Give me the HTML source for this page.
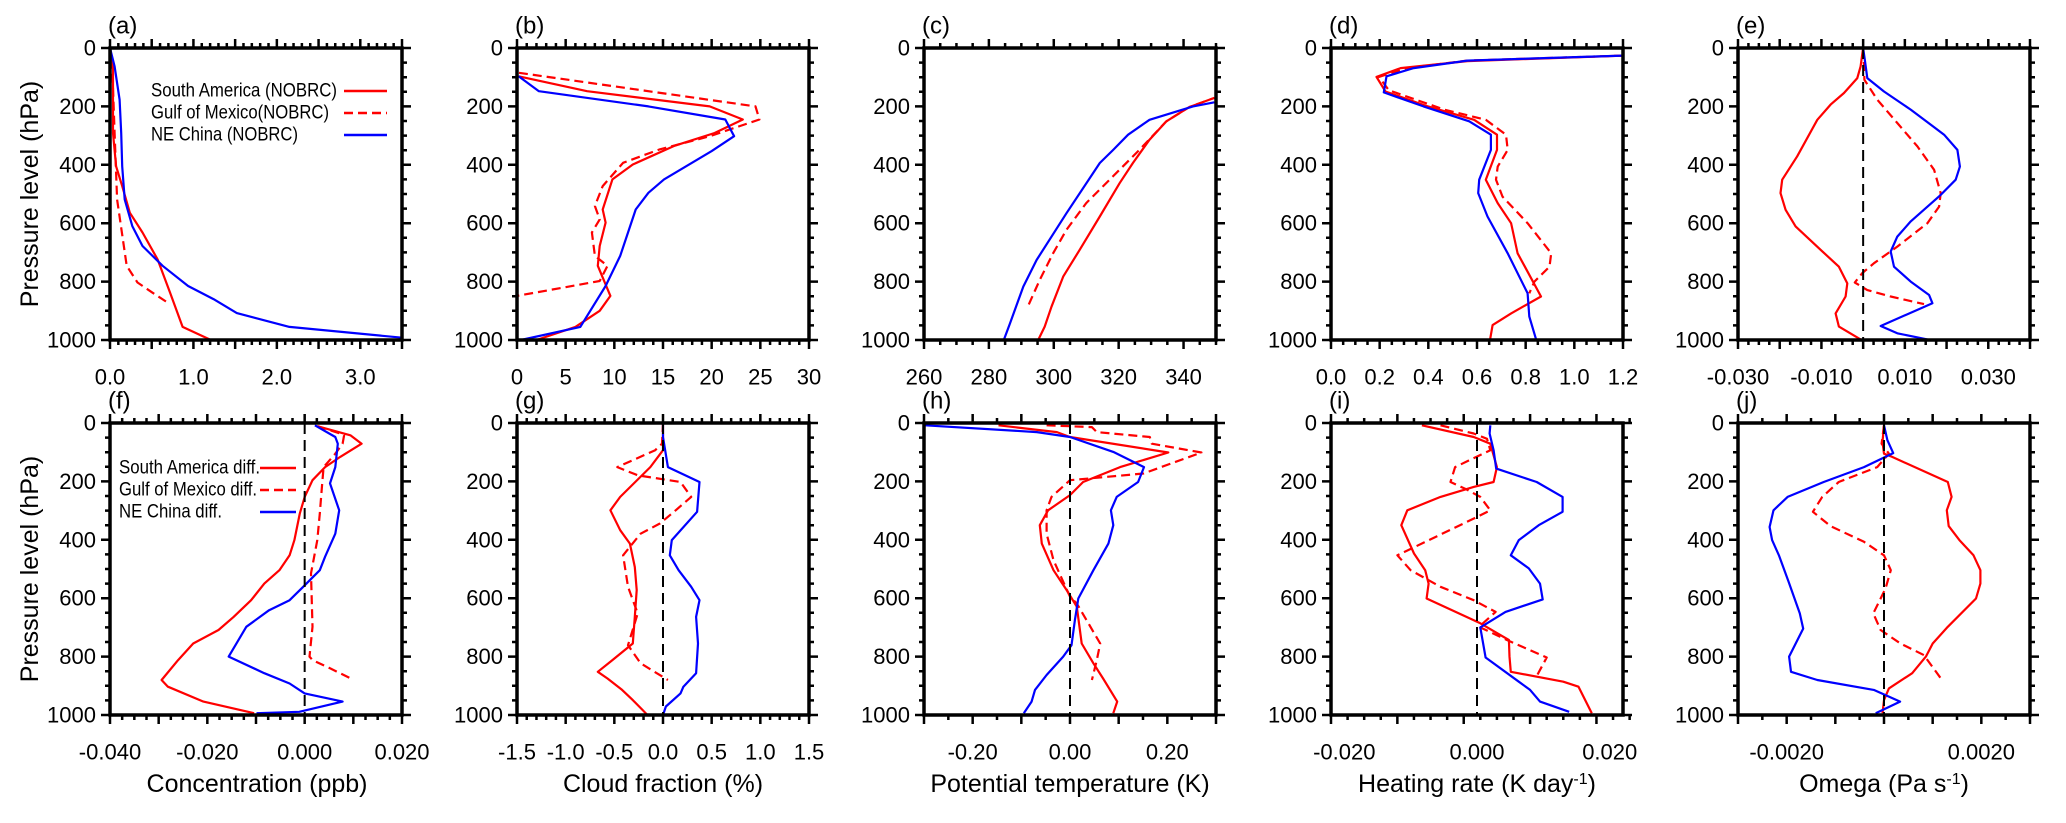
<!DOCTYPE html>
<html><head><meta charset="utf-8">
<style>
html,body{margin:0;padding:0;background:#fff;}
svg{display:block;font-family:"Liberation Sans",Arial,sans-serif;}
</style></head>
<body>
<svg id="fig" width="2066" height="823" viewBox="0 0 2066 823" xmlns="http://www.w3.org/2000/svg">
<rect x="0" y="0" width="2066" height="823" fill="#fff"/>
<text x="0" y="0" transform="translate(38,194) rotate(-90)" text-anchor="middle" font-size="25">Pressure level (hPa)</text>
<text x="0" y="0" transform="translate(38,569) rotate(-90)" text-anchor="middle" font-size="25">Pressure level (hPa)</text>
<text x="257" y="792" text-anchor="middle" font-size="25">Concentration (ppb)</text>
<text x="663" y="792" text-anchor="middle" font-size="25">Cloud fraction  (%)</text>
<text x="1070" y="792" text-anchor="middle" font-size="25">Potential temperature  (K)</text>
<text x="1477" y="792" text-anchor="middle" font-size="25">Heating rate  (K day<tspan baseline-shift="super" font-size="16">-1</tspan>)</text>
<text x="1884" y="792" text-anchor="middle" font-size="25">Omega (Pa s<tspan baseline-shift="super" font-size="16">-1</tspan>)</text>
</svg>
<script>
// ---- data ----
const yTicks=[0,200,400,600,800,1000];
// (a) concentration
const aSAp=[6,63,291,405,473,564,632,724,838,955,1000];
const aSAx=[0,0.036,0.036,0.073,0.146,0.237,0.389,0.571,0.72,0.87,1.21];
const aGMp=[40,291,519,746,803,838,870];
const aGMx=[0.024,0.055,0.085,0.2,0.33,0.51,0.68];
const aNEp=[0,63,177,291,405,519,610,678,746,815,860,908,955,992];
const aNEx=[0,0.055,0.115,0.134,0.146,0.176,0.267,0.389,0.63,0.936,1.24,1.52,2.15,3.5];
const aLabels=["0.0","1.0","2.0","3.0"];
// (b) cloud fraction
const bSAp=[97,148,200,245,291,336,399,450,553,598,678,746,849,900,955,1000];
const bSAx=[0.16,7.2,19.8,23.2,20.3,16.1,11.9,9.8,8.8,9.1,8.5,8.3,9.6,8.5,6.0,2.0];
const bGMp=[85,200,245,302,348,393,473,541,587,632,712,746,798,849];
const bGMx=[0.2,24.5,24.9,19.8,14.6,10.9,8.8,8,8.5,7.7,8,9.3,8.5,0];
const bNEp=[97,148,200,245,302,353,450,496,553,712,815,955,1000];
const bNEx=[0.16,2.25,13.5,21.4,22.3,20,15.1,13.5,12.2,10.6,9.1,6.5,0.4];
const bLabels=["0","5","10","15","20","25","30"];
// (c) potential temperature
const cSAp=[1000,954,886,783,691,577,463,394,314,251,202,171];
const cSAx=[295.2,297.2,299.3,302.9,308,314.2,320.3,324.4,329.5,334.7,341.8,349.5];
const cGMp=[878,794,703,623,531,440,349,251,202,171];
const cGMx=[292.3,295.7,299.8,303.9,310,318.2,326.4,334.7,341.8,349.5];
const cNEp=[1000,943,817,726,566,394,349,297,246,200,186];
const cNEx=[284.6,286.5,290.6,294.7,303.9,314.2,318.3,322.9,329.5,342.9,349.5];
const cLabels=["260","280","300","320","340"];
// (d) heating rate
const dSAp=[26,45,69,99,149,198,246,297,349,451,531,600,703,754,851,909,949,998];
const dSAx=[1.2,0.56,0.286,0.187,0.224,0.39,0.588,0.682,0.682,0.636,0.685,0.74,0.767,0.80,0.863,0.74,0.664,0.654];
const dGMp=[26,43,69,99,145,211,246,297,349,406,451,509,600,703,749,800,840];
const dGMx=[1.2,0.56,0.31,0.197,0.238,0.465,0.636,0.719,0.726,0.685,0.678,0.705,0.808,0.905,0.898,0.836,0.815];
const dNEp=[26,43,69,97,152,200,251,297,349,451,497,577,703,840,920,998];
const dNEx=[1.2,0.56,0.34,0.228,0.217,0.38,0.568,0.657,0.657,0.609,0.605,0.643,0.726,0.808,0.815,0.843];
const dLabels=["0.0","0.2","0.4","0.6","0.8","1.0","1.2"];
// (e) omega
const eSAp=[0,63,103,154,194,246,371,451,497,554,611,691,749,806,851,909,954,998];
const eSAx=[0,-0.0006,-0.0014,-0.0046,-0.0078,-0.011,-0.0158,-0.0194,-0.0198,-0.0186,-0.0162,-0.0102,-0.0058,-0.0038,-0.0042,-0.0066,-0.0058,-0.0006];
const eGMp=[0,63,109,177,257,337,417,497,543,600,680,737,771,803,829,851,877];
const eGMx=[0,0.0002,0.0003,0.0034,0.0082,0.013,0.017,0.0186,0.0182,0.0154,0.0082,0.0026,-0.0002,-0.002,0.001,0.0066,0.0146];
const eNEp=[0,40,103,149,211,297,349,406,451,503,594,646,697,749,800,846,874,952,977,998];
const eNEx=[0,0.0004,0.001,0.005,0.0114,0.0194,0.0226,0.0232,0.0222,0.0186,0.0114,0.0082,0.0066,0.0074,0.0114,0.0158,0.0166,0.0042,0.0082,0.0154];
const eLabels=["-0.030","-0.010","0.010","0.030"];
// (f) concentration diff
const fSAp=[11,42,71,116,151,196,253,310,401,453,504,550,607,664,709,755,812,880,903,954,994];
const fSAx=[0.0026,0.0094,0.0117,0.0073,0.0042,0.0016,0,-0.001,-0.0021,-0.0031,-0.0052,-0.0083,-0.011,-0.0146,-0.0177,-0.0229,-0.026,-0.0294,-0.0281,-0.0208,-0.0104];
const fGMp=[11,36,42,71,105,151,207,310,401,515,698,800,812,840,878];
const fGMx=[0.0026,0.0073,0.0081,0.0078,0.0063,0.0039,0.0036,0.0031,0.0026,0.0013,0.0016,0.001,0.0016,0.0052,0.0099];
const fNEp=[8,48,71,151,207,299,379,458,504,561,607,641,698,800,857,892,926,954,989,994];
const fNEx=[0.0021,0.0063,0.0068,0.0063,0.0052,0.0071,0.0063,0.0042,0.0031,-0.0003,-0.0031,-0.0073,-0.012,-0.0156,-0.0083,-0.0031,0,0.0078,-0.0011,-0.0099];
const fLabels=["-0.040","-0.020","0.000","0.020"];
// (g) cloud fraction diff
const gSAp=[0,93,151,253,299,367,413,493,572,664,755,812,852,875,914,949,983,1000];
const gSAx=[0,0,-0.13,-0.44,-0.54,-0.44,-0.34,-0.29,-0.27,-0.29,-0.31,-0.52,-0.67,-0.57,-0.42,-0.31,-0.21,-0.16];
const gGMp=[0,71,93,151,179,202,253,299,344,379,424,453,561,652,761,823,880];
const gGMx=[0,-0.01,-0.08,-0.47,-0.26,0.18,0.29,0.13,-0.03,-0.23,-0.34,-0.41,-0.36,-0.26,-0.36,-0.23,0.05];
const gNEp=[0,48,151,202,304,401,453,504,561,607,664,755,857,903,926,971,1000];
const gNEx=[0,0,0.05,0.375,0.35,0.09,0.07,0.16,0.29,0.375,0.34,0.36,0.34,0.21,0.18,0.03,0];
const gLabels=["-1.5","-1.0","-0.5","0.0","0.5","1.0","1.5"];
// (h) potential temperature diff
const hSAp=[8,31,48,101,151,202,247,299,350,413,504,572,629,755,823,875,954,994];
const hSAx=[-0.147,-0.027,0,0.202,0.103,0.027,0,-0.045,-0.062,-0.058,-0.034,-0.007,0.014,0.024,0.048,0.068,0.097,0.089];
const hGMp=[8,14,31,48,71,101,173,196,253,299,379,470,595,618,755,812,880];
const hGMx=[-0.048,0.045,0.055,0.164,0.168,0.27,0.151,0,-0.038,-0.048,-0.048,-0.034,0,0.014,0.062,0.055,0.045];
const hNEp=[8,31,48,99,151,202,253,299,350,413,504,601,675,761,800,863,914,954,994];
const hNEx=[-0.298,-0.068,0,0.089,0.152,0.14,0.096,0.084,0.089,0.079,0.048,0.017,0.01,0.003,-0.014,-0.048,-0.072,-0.079,-0.095];
const hLabels=["-0.20","0.00","0.20"];
// (i) heating rate diff
const iSAp=[8,48,71,151,202,219,253,299,350,447,504,550,601,686,743,800,852,886,903,994];
const iSAx=[-0.0083,-0.0005,0.002,0.003,0.0025,-0.0005,-0.0055,-0.0105,-0.0114,-0.0095,-0.0078,-0.0073,-0.0076,0.0005,0.0048,0.0049,0.0051,0.013,0.0153,0.0173];
const iGMp=[8,36,54,93,151,202,225,253,299,322,453,504,561,607,647,698,743,803,875];
const iGMx=[-0.0055,-0.0005,0.0015,0.002,-0.0033,-0.004,-0.0018,0.0005,0.002,0,-0.012,-0.01,-0.0055,-0.0005,0.0028,0.0003,0.0045,0.0105,0.0088];
const iNEp=[8,36,93,156,202,253,304,350,401,453,498,550,604,647,700,803,886,914,954,989];
const iNEx=[0.002,0.0019,0.0025,0.0029,0.009,0.0129,0.0129,0.0093,0.0063,0.0051,0.0078,0.0095,0.0099,0.0043,0.0005,0.0013,0.0063,0.008,0.0095,0.0139];
const iLabels=["-0.020","0.000","0.020"];
// (j) omega diff
const jSAp=[8,65,105,114,202,253,299,353,401,453,504,550,601,698,755,800,857,909,949,994];
const jSAx=[0,-0.00003,0,0.00014,0.00131,0.00139,0.00129,0.00133,0.00155,0.00184,0.00198,0.00198,0.00189,0.00131,0.001,0.00086,0.00058,0.0001,0,-0.00003];
const jGMp=[8,71,105,151,202,253,304,353,407,453,504,567,652,709,755,795,875];
const jGMx=[0,-0.00005,0.0001,-0.00014,-0.00093,-0.00127,-0.00146,-0.0011,-0.00041,0,0.00014,0.00003,-0.00022,-0.00007,0.00034,0.00082,0.00117];
const jNEp=[8,59,103,151,202,253,299,356,401,453,544,652,704,800,852,880,914,954,994];
const jNEx=[0,0.00007,0.00019,-0.00041,-0.00124,-0.00198,-0.00227,-0.00235,-0.0023,-0.00216,-0.00196,-0.00173,-0.00166,-0.00195,-0.00191,-0.00137,-0.00021,0.00033,-0.00017];
const jLabels=["-0.0020","0.0020"];

const NS="http://www.w3.org/2000/svg";
const svg=document.getElementById('fig');
function mk(tag,attrs,parent){const e=document.createElementNS(NS,tag);for(const k in attrs)e.setAttribute(k,attrs[k]);(parent||svg).appendChild(e);return e;}
const RED="#ff0000",BLUE="#0000ff";
const W=292,H=292;

function panel(id,left,top,xmin,xmax,majorStep,minorStep,labels,labelVals,zero,series,labOff){
  const g=mk('g',{});
  
  
  const sx=v=>left+(v-xmin)/(xmax-xmin)*W;
  const sy=p=>top+p/1000*H;
  series.forEach(s=>{
    const pts=s.x.map((v,k)=>sx(v).toFixed(1)+','+sy(s.p[k]).toFixed(1)).join(' ');
    const pl=mk('polyline',{points:pts,fill:'none',stroke:s.c,'stroke-width':2.2,'stroke-linejoin':'round'},g);
    if(s.dash)pl.setAttribute('stroke-dasharray','9,5');
    
    
  });
  if(zero){
    const z=mk('line',{x1:sx(0),x2:sx(0),y1:top,y2:top+H,stroke:'#000','stroke-width':2,'stroke-dasharray':'11,6'},g);
    
    
  }
  const fr=mk('rect',{x:left,y:top,width:W,height:H,fill:'none',stroke:'#000','stroke-width':3.5},g);
  
  
  let d='';
  const nMin=Math.round((xmax-xmin)/minorStep);
  for(let k=0;k<=nMin;k++){const v=xmin+k*minorStep;const X=sx(v);
    const rel=(v-xmin)/majorStep;const maj=Math.abs(rel-Math.round(rel))<1e-6;const L=maj?9:5;
    d+=`M${X},${top}v${-L}M${X},${top+H}v${L}`;}
  for(let p=0;p<=1000;p+=50){const Y=sy(p);const L=(p%200===0)?9:5;
    d+=`M${left},${Y}h${-L}M${left+W},${Y}h${L}`;}
  const tk=mk('path',{d:d,stroke:'#000','stroke-width':2.5,fill:'none'},g);
  
  
  labels.forEach((t,k)=>{
    const tx=mk('text',{x:sx(labelVals[k]),y:top+H+labOff,'text-anchor':'middle','dominant-baseline':'central','font-size':22},g);
    tx.textContent=t;
    
    
  });
  yTicks.forEach(p=>{
    const ty=mk('text',{x:left-14,y:sy(p),'text-anchor':'end','dominant-baseline':'central','font-size':22},g);
    ty.textContent=String(p);
    
    
  });
  const pl=mk('text',{x:left-2,y:top-22,'dominant-baseline':'central','font-size':24},g);
  pl.textContent='('+id+')';
  
  
}
const S=(n,x,p,c,dash)=>({n,x,p,c,dash});
const L=[110,517,924,1331,1738],T1=48,T2=423,O1=37,O2=37;
panel('a',L[0],T1,0,3.5,0.5,0.1,aLabels,aLabels.map(Number),false,[S('sa',aSAx,aSAp,RED),S('gm',aGMx,aGMp,RED,1),S('ne',aNEx,aNEp,BLUE)],O1);
panel('b',L[1],T1,0,30,5,1,bLabels,bLabels.map(Number),false,[S('sa',bSAx,bSAp,RED),S('gm',bGMx,bGMp,RED,1),S('ne',bNEx,bNEp,BLUE)],O1);
panel('c',L[2],T1,260,350,20,5,cLabels,cLabels.map(Number),false,[S('sa',cSAx,cSAp,RED),S('gm',cGMx,cGMp,RED,1),S('ne',cNEx,cNEp,BLUE)],O1);
panel('d',L[3],T1,0,1.2,0.2,0.05,dLabels,dLabels.map(Number),false,[S('sa',dSAx,dSAp,RED),S('gm',dGMx,dGMp,RED,1),S('ne',dNEx,dNEp,BLUE)],O1);
panel('e',L[4],T1,-0.03,0.04,0.01,0.0025,eLabels,eLabels.map(Number),true,[S('sa',eSAx,eSAp,RED),S('gm',eGMx,eGMp,RED,1),S('ne',eNEx,eNEp,BLUE)],O1);
panel('f',L[0],T2,-0.04,0.02,0.01,0.0025,fLabels,fLabels.map(Number),true,[S('sa',fSAx,fSAp,RED),S('gm',fGMx,fGMp,RED,1),S('ne',fNEx,fNEp,BLUE)],O2);
panel('g',L[1],T2,-1.5,1.5,0.5,0.1,gLabels,gLabels.map(Number),true,[S('sa',gSAx,gSAp,RED),S('gm',gGMx,gGMp,RED,1),S('ne',gNEx,gNEp,BLUE)],O2);
panel('h',L[2],T2,-0.3,0.3,0.1,0.05,hLabels,hLabels.map(Number),true,[S('sa',hSAx,hSAp,RED),S('gm',hGMx,hGMp,RED,1),S('ne',hNEx,hNEp,BLUE)],O2);
panel('i',L[3],T2,-0.022,0.022,0.01,0.0025,iLabels,iLabels.map(Number),true,[S('sa',iSAx,iSAp,RED),S('gm',iGMx,iGMp,RED,1),S('ne',iNEx,iNEp,BLUE)],O2);
panel('j',L[4],T2,-0.003,0.003,0.001,0.0005,jLabels,jLabels.map(Number),true,[S('sa',jSAx,jSAp,RED),S('gm',jGMx,jGMp,RED,1),S('ne',jNEx,jNEp,BLUE)],O2);

function legend(id,x0,y0,lx1,lx2,names,widths){
  const g=mk('g',{});
  
  
  const cols=[RED,RED,BLUE],dash=[0,1,0];
  names.forEach((n,k)=>{
    const y=y0+k*22;
    const t=mk('text',{x:x0,y:y,'dominant-baseline':'central','font-size':19,textLength:widths[k],lengthAdjust:'spacingAndGlyphs'},g);
    t.textContent=n;
    
    
    const ln=mk('line',{x1:lx1,x2:lx2,y1:y,y2:y,stroke:cols[k],'stroke-width':2.5},g);
    if(dash[k])ln.setAttribute('stroke-dasharray','9,5');
    
    
  });
}
legend('a',151,91,344,387,["South America (NOBRC)","Gulf of Mexico(NOBRC)","NE China (NOBRC)"],[186,178,147]);
legend('f',119,468,260,296,["South America diff.","Gulf of Mexico diff.","NE China diff."],[141,138,103]);
</script>
</body></html>
